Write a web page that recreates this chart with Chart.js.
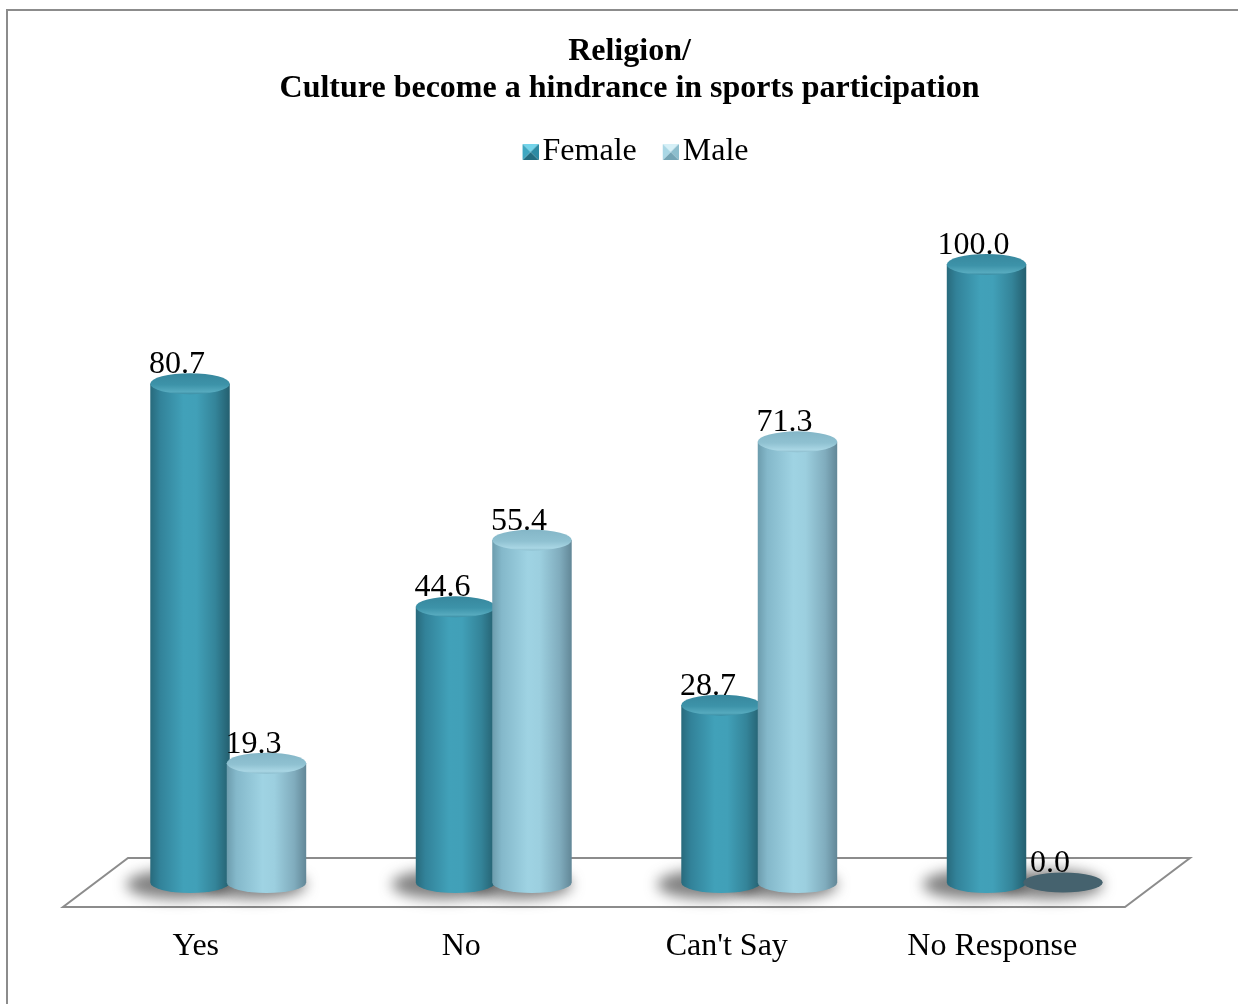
<!DOCTYPE html>
<html>
<head>
<meta charset="utf-8">
<script src="https://cdn.jsdelivr.net/npm/chart.js@4.4.1/dist/chart.umd.min.js"></script>
<style>
  html, body { margin: 0; padding: 0; background: #fff; overflow: hidden; }
  #frame {
    position: absolute; left: 6px; top: 9px;
    width: 1243px; height: 993px;
    border-top: 2px solid #8c8c8c; border-left: 2px solid #8c8c8c;
  }
  canvas { display: block; }
</style>
</head>
<body>
<div id="frame"><canvas id="hindranceCanvas" width="1243" height="993"></canvas></div>
<script>
const categories = ['Yes', 'No', "Can't Say", 'No Response'];
const femaleValues = [80.7, 44.6, 28.7, 100.0];
const maleValues = [19.3, 55.4, 71.3, 0.0];
const seriesNames = ['Female', 'Male'];

Chart.defaults.font.family = '"Times New Roman", "Liberation Serif", serif';
Chart.defaults.color = '#000';

// floor depth vector; cylinders stand half way back on the floor
const depth = { x: 65, y: -49 };

const palettes = [
  {
    body: [[0, '#286a7c'], [0.12, '#328299'], [0.42, '#41a1b9'], [0.58, '#41a0b8'], [0.82, '#348499'], [1, '#245f6f']],
    top: [[0, '#37879d'], [0.55, '#3d93a9'], [0.88, '#56aabe'], [1, '#3a8ca2']],
    icon: { top: '#74d4ea', left: '#3ea7c1', right: '#2d8aa3', bottom: '#236c80' }
  },
  {
    body: [[0, '#6c9cad'], [0.12, '#84b8ca'], [0.45, '#9fd3e3'], [0.6, '#9ccfdf'], [0.85, '#80acbd'], [1, '#628797']],
    top: [[0, '#84b6c7'], [0.55, '#8fc1d1'], [0.88, '#a9d6e4'], [1, '#8bbccc']],
    icon: { top: '#d6f0f7', left: '#a9d7e5', right: '#8dbecd', bottom: '#74a4b4' }
  }
];

// small bevelled squares for the legend (drawn at the right end of a wider image
// so the label text sits close to the square)
function bevelIcon(c) {
  const cv = document.createElement('canvas');
  cv.width = 40; cv.height = 16;
  const g = cv.getContext('2d');
  const ox = 24, s = 16, m = 8;
  const tri = (pts, col) => {
    g.beginPath();
    g.moveTo(pts[0], pts[1]); g.lineTo(pts[2], pts[3]); g.lineTo(pts[4], pts[5]);
    g.closePath(); g.fillStyle = col; g.fill();
  };
  tri([ox, 0, ox + s, 0, ox + m, m], c.top);
  tri([ox + s, 0, ox + s, s, ox + m, m], c.right);
  tri([ox + s, s, ox, s, ox + m, m], c.bottom);
  tri([ox, s, ox, 0, ox + m, m], c.left);
  return cv;
}
const legendIcons = palettes.map(p => bevelIcon(p.icon));

function hGradient(ctx, x0, x1, stops) {
  const gr = ctx.createLinearGradient(x0, 0, x1, 0);
  stops.forEach(s => gr.addColorStop(s[0], s[1]));
  return gr;
}
function vGradient(ctx, y0, y1, stops) {
  const gr = ctx.createLinearGradient(0, y0, 0, y1);
  stops.forEach(s => gr.addColorStop(s[0], s[1]));
  return gr;
}

const cylinders = {
  id: 'cylinders',
  beforeDatasetsDraw(chart) {
    const { ctx, chartArea: a } = chart;
    ctx.save();
    ctx.beginPath();
    ctx.moveTo(a.left, a.bottom);
    ctx.lineTo(a.right, a.bottom);
    ctx.lineTo(a.right + depth.x, a.bottom + depth.y);
    ctx.lineTo(a.left + depth.x, a.bottom + depth.y);
    ctx.closePath();
    ctx.fillStyle = '#fff';
    ctx.fill();
    ctx.strokeStyle = '#8c8c8c';
    ctx.lineWidth = 2;
    ctx.stroke();
    ctx.restore();
  },
  afterDatasetsDraw(chart) {
    const ctx = chart.ctx;
    const ry = 10.5;
    const items = [];
    chart.data.datasets.forEach((ds, di) => {
      chart.getDatasetMeta(di).data.forEach((bar, i) => {
        const p = bar.getProps(['x', 'y', 'base', 'width'], true);
        items.push({
          di, value: ds.data[i],
          cx: p.x + depth.x / 2,
          top: p.y + depth.y / 2,
          base: p.base + depth.y / 2,
          rx: p.width / 2 + 1.5
        });
      });
    });

    // soft floor shadows
    ctx.save();
    ctx.filter = 'blur(7px)';
    ctx.fillStyle = 'rgba(60,60,60,0.65)';
    items.forEach(it => {
      ctx.beginPath();
      ctx.ellipse(it.cx - 12, it.base + 2, it.rx * 1.3, ry * 1.4, 0, 0, Math.PI * 2);
      ctx.fill();
    });
    ctx.restore();

    // cylinder bodies and caps
    items.forEach(it => {
      const pal = palettes[it.di];
      const { cx, top, base, rx } = it;
      ctx.save();
      if (base - top < 0.5) {
        ctx.beginPath();
        ctx.ellipse(cx, base, rx, ry * 0.95, 0, 0, Math.PI * 2);
        ctx.fillStyle = '#45626e';
        ctx.fill();
        ctx.restore();
        return;
      }
      ctx.beginPath();
      ctx.moveTo(cx - rx, top);
      ctx.lineTo(cx - rx, base);
      ctx.ellipse(cx, base, rx, ry, 0, Math.PI, 0, true);
      ctx.lineTo(cx + rx, top);
      ctx.closePath();
      ctx.fillStyle = hGradient(ctx, cx - rx, cx + rx, pal.body);
      ctx.fill();

      ctx.beginPath();
      ctx.ellipse(cx, top, rx, ry, 0, 0, Math.PI * 2);
      ctx.fillStyle = vGradient(ctx, top - ry, top + ry, pal.top);
      ctx.fill();
      ctx.restore();
    });

    // value labels
    ctx.save();
    ctx.font = '32px "Times New Roman", "Liberation Serif", serif';
    ctx.fillStyle = '#000';
    ctx.textAlign = 'center';
    ctx.textBaseline = 'middle';
    items.forEach(it => {
      ctx.fillText(it.value.toFixed(1), it.cx - 13, it.top - 19);
    });
    ctx.restore();
  }
};

const ctx = document.getElementById('hindranceCanvas').getContext('2d');
const hindranceChart = new Chart(ctx, {
  type: 'bar',
  data: {
    labels: categories,
    datasets: [
      { label: seriesNames[0], data: femaleValues },
      { label: seriesNames[1], data: maleValues }
    ].map(ds => Object.assign(ds, {
      backgroundColor: 'rgba(0,0,0,0)',
      borderWidth: 0,
      categoryPercentage: 0.576,
      barPercentage: 1
    }))
  },
  options: {
    responsive: false,
    animation: false,
    layout: { padding: 0 },
    plugins: {
      title: {
        display: true,
        text: ['Religion/', 'Culture become a hindrance in sports participation'],
        color: '#000',
        font: { size: 32, weight: 'bold', lineHeight: 1.156 },
        padding: { top: 22.5, bottom: 14.5 }
      },
      legend: {
        labels: {
          usePointStyle: true,
          boxWidth: 16,
          boxHeight: 16,
          padding: 14,
          color: '#000',
          font: { size: 32 },
          generateLabels: chart => chart.data.datasets.map((ds, i) => ({
            text: ds.label,
            pointStyle: legendIcons[i],
            fillStyle: 'rgba(0,0,0,0)',
            strokeStyle: 'rgba(0,0,0,0)',
            lineWidth: 0,
            hidden: false,
            datasetIndex: i,
            fontColor: '#000'
          }))
        }
      },
      tooltip: { enabled: false }
    },
    scales: {
      x: {
        grid: { display: false },
        border: { display: false },
        ticks: { color: '#000', font: { size: 32 }, padding: 12, maxRotation: 0 },
        afterFit: s => { s.height = 97; }
      },
      y: {
        min: 0,
        max: 117.96,
        grid: { display: false },
        border: { display: false },
        ticks: { display: false },
        afterFit: s => { s.width = 55; }
      },
      yRight: {
        type: 'linear',
        position: 'right',
        grid: { display: false },
        border: { display: false },
        ticks: { display: false },
        afterFit: s => { s.width = 126; }
      }
    }
  },
  plugins: [cylinders]
});
</script>
</body>
</html>
